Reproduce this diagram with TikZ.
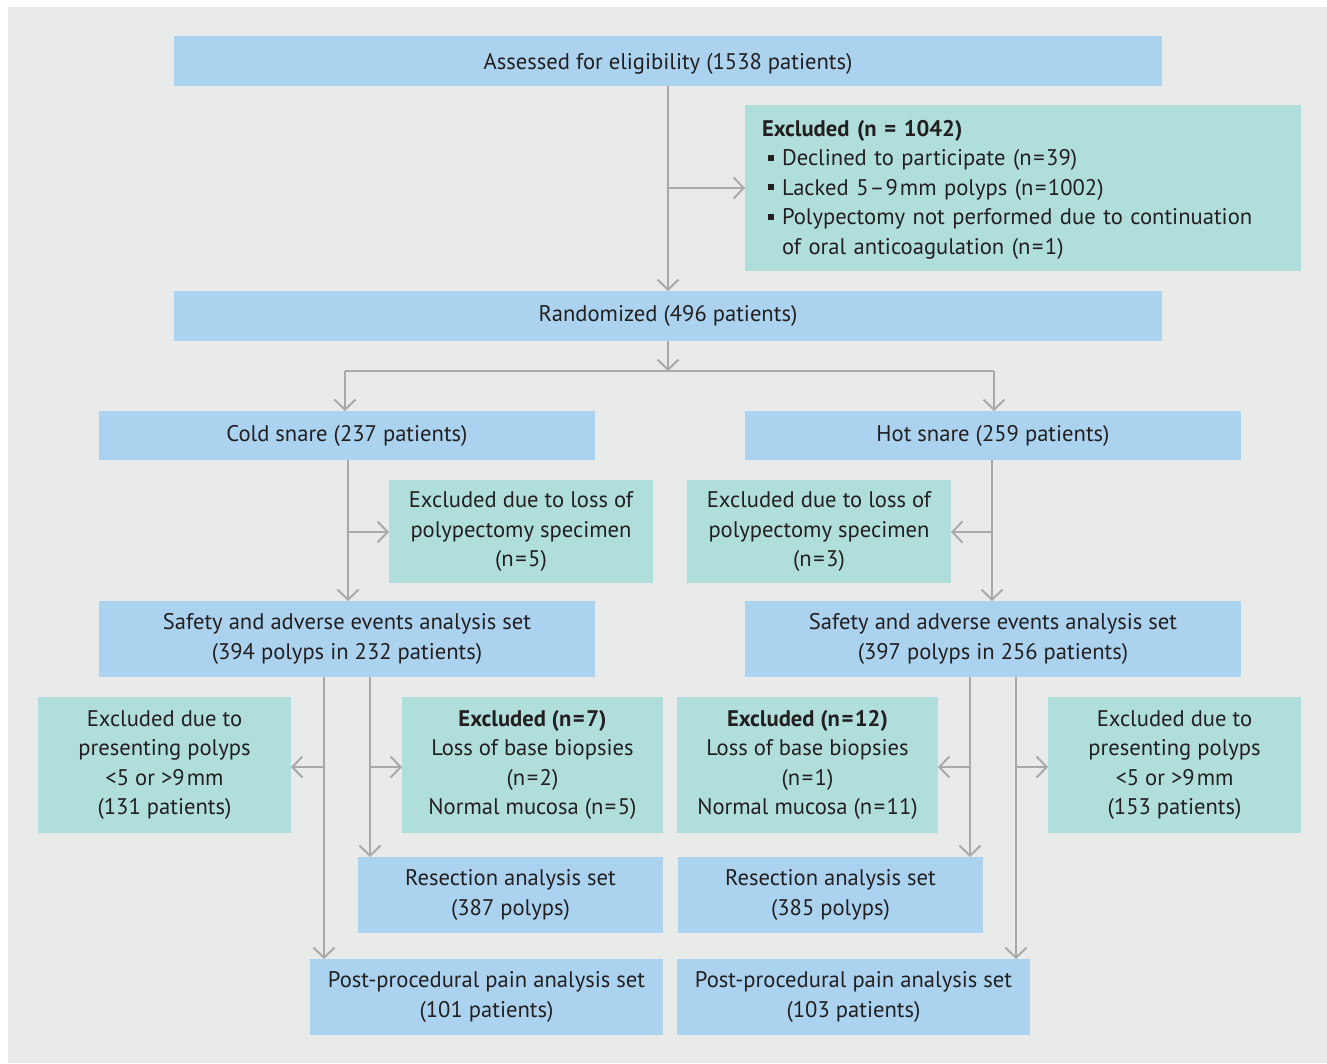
\documentclass[tikz,border=0pt]{standalone}
\usepackage{fontspec}
\setmainfont{PT Sans}
\usetikzlibrary{arrows.meta}
\definecolor{bgc}{HTML}{E9EBEA}
\definecolor{bluec}{HTML}{ABD3EF}
\definecolor{tealc}{HTML}{B0DEDB}
\definecolor{arrc}{HTML}{A9A9AB}
\definecolor{txtc}{HTML}{231F20}
\newcommand\mybul{\makebox[20pt][l]{\hspace{6pt}\rule[0.22em]{0.26em}{0.26em}}}
\newcommand\myeq{\hspace{1.5pt}=\hspace{1.5pt}}
\tikzset{
  box/.style={inner sep=0pt, outer sep=0pt, align=center, text=txtc,
    font=\fontsize{22.6}{29.5}\selectfont},
  bluebox/.style={box, fill=bluec},
  tealbox/.style={box, fill=tealc},
  conn/.style={draw=arrc, line width=2pt},
  arr/.style={conn, -{Straight Barb[length=10pt,width=21pt]}}
}
\begin{document}
\begin{tikzpicture}[x=1pt,y=-1pt]
\useasboundingbox (0,0) rectangle (1327,1063);
\fill[white] (0,0) rectangle (1327,1063);
\fill[bgc] (8,7) rectangle (1327,1063);
% boxes
\node[bluebox, minimum width=988pt, minimum height=50pt, text depth=0pt] (assess) at (668,61) {Assessed for eligibility (1538 patients)};
\node[tealbox, minimum width=556pt, minimum height=166pt, anchor=north west] (excl) at (745,105) {};
\node[box, anchor=north west, align=left, text width=539pt] (excltxt) at (762,120) {\textbf{Excluded (n = 1042)}\\
\mybul Declined to participate (n\myeq 39)\\
\mybul Lacked 5\hspace{1pt}–\hspace{1pt}9\hspace{2pt}mm polyps (n\myeq 1002)\\
\mybul Polypectomy not performed due to continuation\\
\hspace*{20pt}of oral anticoagulation (n\myeq 1)};
\node[bluebox, minimum width=988pt, minimum height=50pt] (rand) at (668,316) {Randomized (496 patients)};
\node[bluebox, minimum width=496pt, minimum height=49pt] (cold) at (347,435.5) {Cold snare (237 patients)};
\node[bluebox, minimum width=496pt, minimum height=49pt] (hot) at (993,435.5) {Hot snare (259 patients)};
\node[tealbox, minimum width=264pt, minimum height=103pt] (lossc) at (521,531.5) {Excluded due to loss of\\polypectomy specimen\\(n\myeq 5)};
\node[tealbox, minimum width=264pt, minimum height=103pt] (lossh) at (819,531.5) {Excluded due to loss of\\polypectomy specimen\\(n\myeq 3)};
\node[bluebox, minimum width=496pt, minimum height=76pt] (safec) at (347,639) {Safety and adverse events analysis set\\(394 polyps in 232 patients)};
\node[bluebox, minimum width=496pt, minimum height=76pt] (safeh) at (993,639) {Safety and adverse events analysis set\\(397 polyps in 256 patients)};
\node[tealbox, minimum width=253pt, minimum height=136pt] (presc) at (164.5,765) {Excluded due to\\presenting polyps\\<5 or >9\hspace{2pt}mm\\(131 patients)};
\node[tealbox, minimum width=261pt, minimum height=136pt] (ex7) at (532.5,765) {\textbf{Excluded (n\myeq 7)}\\Loss of base biopsies\\(n\myeq 2)\\Normal mucosa (n\myeq 5)};
\node[tealbox, minimum width=261pt, minimum height=136pt] (ex12) at (807.5,765) {\textbf{Excluded (n\myeq 12)}\\Loss of base biopsies\\(n\myeq 1)\\Normal mucosa (n\myeq 11)};
\node[tealbox, minimum width=253pt, minimum height=136pt] (presh) at (1174.5,765) {Excluded due to\\presenting polyps\\<5 or >9\hspace{2pt}mm\\(153 patients)};
\node[bluebox, minimum width=305pt, minimum height=76pt] (resc) at (510.5,895) {Resection analysis set\\(387 polyps)};
\node[bluebox, minimum width=305pt, minimum height=76pt] (resh) at (830.5,895) {Resection analysis set\\(385 polyps)};
\node[bluebox, minimum width=353pt, minimum height=76pt] (painc) at (486.5,997) {Post-procedural pain analysis set\\(101 patients)};
\node[bluebox, minimum width=353pt, minimum height=76pt] (painh) at (853.5,997) {Post-procedural pain analysis set\\(103 patients)};
% coordinates
\coordinate (j1) at (668,188);
\coordinate (split) at (668,371);
\coordinate (splitL) at (345,371);
\coordinate (splitR) at (994,371);
\coordinate (cj) at (348,532);
\coordinate (hj) at (992,532);
\coordinate (c1) at (324,767);
\coordinate (c2) at (370,767);
\coordinate (h1) at (970,767);
\coordinate (h2) at (1016,767);
% connectors
\draw[arr] (assess.south) -- (rand.north);
\draw[arr] (j1) -- (excl.west |- j1);
\draw[arr] (rand.south) -- (split);
\draw[conn] (splitL) -- (splitR);
\draw[arr] (splitL) -- (splitL |- cold.north);
\draw[arr] (splitR) -- (splitR |- hot.north);
\draw[arr] (cj |- cold.south) -- (cj |- safec.north);
\draw[arr] (cj) -- (lossc.west |- cj);
\draw[arr] (hj |- hot.south) -- (hj |- safeh.north);
\draw[arr] (hj) -- (lossh.east |- hj);
\draw[arr] (c1 |- safec.south) -- (c1 |- painc.north);
\draw[arr] (c1) -- (presc.east |- c1);
\draw[arr] (c2 |- safec.south) -- (c2 |- resc.north);
\draw[arr] (c2) -- (ex7.west |- c2);
\draw[arr] (h1 |- safeh.south) -- (h1 |- resh.north);
\draw[arr] (h1) -- (ex12.east |- h1);
\draw[arr] (h2 |- safeh.south) -- (h2 |- painh.north);
\draw[arr] (h2) -- (presh.west |- h2);
\end{tikzpicture}
\end{document}
